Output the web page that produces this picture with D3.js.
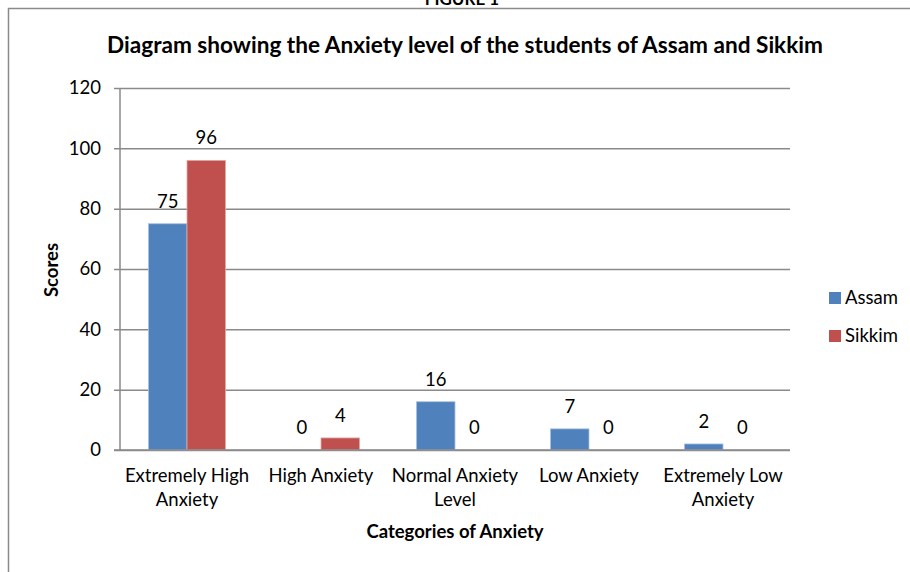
<!DOCTYPE html>
<html><head><meta charset="utf-8">
<script src="https://cdn.jsdelivr.net/npm/d3@7"></script>
<style>body{margin:0;background:#fff}svg{display:block}text{font-family:Lato,"Open Sans",sans-serif;fill:#000}</style>
</head><body>
<script>
const categories = [["Extremely High","Anxiety"],["High Anxiety"],["Normal Anxiety","Level"],["Low Anxiety"],["Extremely Low","Anxiety"]];
const seriesNames = ["Assam","Sikkim"];
const assam = [75,0,16,7,2];
const sikkim = [96,4,0,0,0];
const yTicks = [0,20,40,60,80,100,120];
const colors = ["#4F81BD","#C0504D"];
const strokes = ["#a7c0de","#e0a8a6"];
const FS="18.5px";

const W=910,H=572;
const svg=d3.select("body").append("svg").attr("width",W).attr("height",H);
// frame
svg.append("path").attr("d","M8.5,572V8.5H910").attr("fill","none").attr("stroke","#8a8a8a").attr("stroke-width",1.5);
svg.append("text").attr("x",462).attr("y",5).attr("text-anchor","middle").style("font-weight","bold").style("font-size","17px").text("FIGURE 1");
svg.append("text").attr("x",465).attr("y",53).attr("text-anchor","middle").style("font-weight","bold").style("font-size","22.6px").text("Diagram showing the Anxiety level of the students of Assam and Sikkim");

const x0=120,x1=790,yTop=88,yBot=450;
const x=d3.scaleBand().domain(d3.range(categories.length)).range([x0,x1]).padding(0);
const xs=d3.scaleBand().domain([0,1]).range([28.5,x.bandwidth()-28.5]).padding(0);
const y=d3.scaleLinear().domain([0,120]).range([yBot,yTop]);

// gridlines
const yAxis=d3.axisLeft(y).tickValues(yTicks).tickSize(-(x1-x0)).tickPadding(19);
const ga=svg.append("g").attr("transform",`translate(${x0},0)`).call(yAxis);
ga.select(".domain").remove();
ga.selectAll(".tick line").attr("stroke","#8a8a8a").attr("stroke-width",1.5).attr("x1",-6);
ga.selectAll(".tick text").style("font-size",FS).style("font-family","Lato,sans-serif").attr("fill","#000");
// y axis line
svg.append("line").attr("x1",x0).attr("x2",x0).attr("y1",yTop).attr("y2",yBot).attr("stroke","#8a8a8a").attr("stroke-width",1.5);

const data=categories.map((c,i)=>[assam[i],sikkim[i]]);
const g=svg.append("g");
data.forEach((vals,i)=>{
  vals.forEach((v,s)=>{
    const bx=x(i)+xs(s);
    if(v>0) g.append("rect").attr("x",bx).attr("y",y(v)).attr("width",xs.bandwidth()).attr("height",yBot-y(v))
      .attr("fill",colors[s]).attr("stroke",strokes[s]).attr("stroke-width",0.8);
    g.append("text").attr("x",bx+xs.bandwidth()/2).attr("y",y(v)-16).attr("text-anchor","middle").style("font-size",FS).text(v);
  });
});
// baseline axis
svg.append("line").attr("x1",x0-6).attr("x2",x1).attr("y1",yBot).attr("y2",yBot).attr("stroke","#8a8a8a").attr("stroke-width",1.5);

// category labels
categories.forEach((lines,i)=>{
  const t=svg.append("text").attr("text-anchor","middle").style("font-size",FS);
  lines.forEach((l,k)=>t.append("tspan").attr("x",x(i)+x.bandwidth()/2).attr("y",482+k*24).text(l));
});
svg.append("text").attr("x",455).attr("y",538).attr("text-anchor","middle").style("font-weight","bold").style("font-size",FS).text("Categories of Anxiety");
svg.append("text").attr("transform","translate(58,270) rotate(-90)").attr("text-anchor","middle").style("font-weight","bold").style("font-size",FS).text("Scores");

// legend
seriesNames.forEach((n,i)=>{
  const ly=298+i*38;
  svg.append("rect").attr("x",829).attr("y",ly-6).attr("width",12).attr("height",12).attr("fill",colors[i]);
  svg.append("text").attr("x",845).attr("y",ly+6).style("font-size",FS).text(n);
});
</script>
</body></html>
